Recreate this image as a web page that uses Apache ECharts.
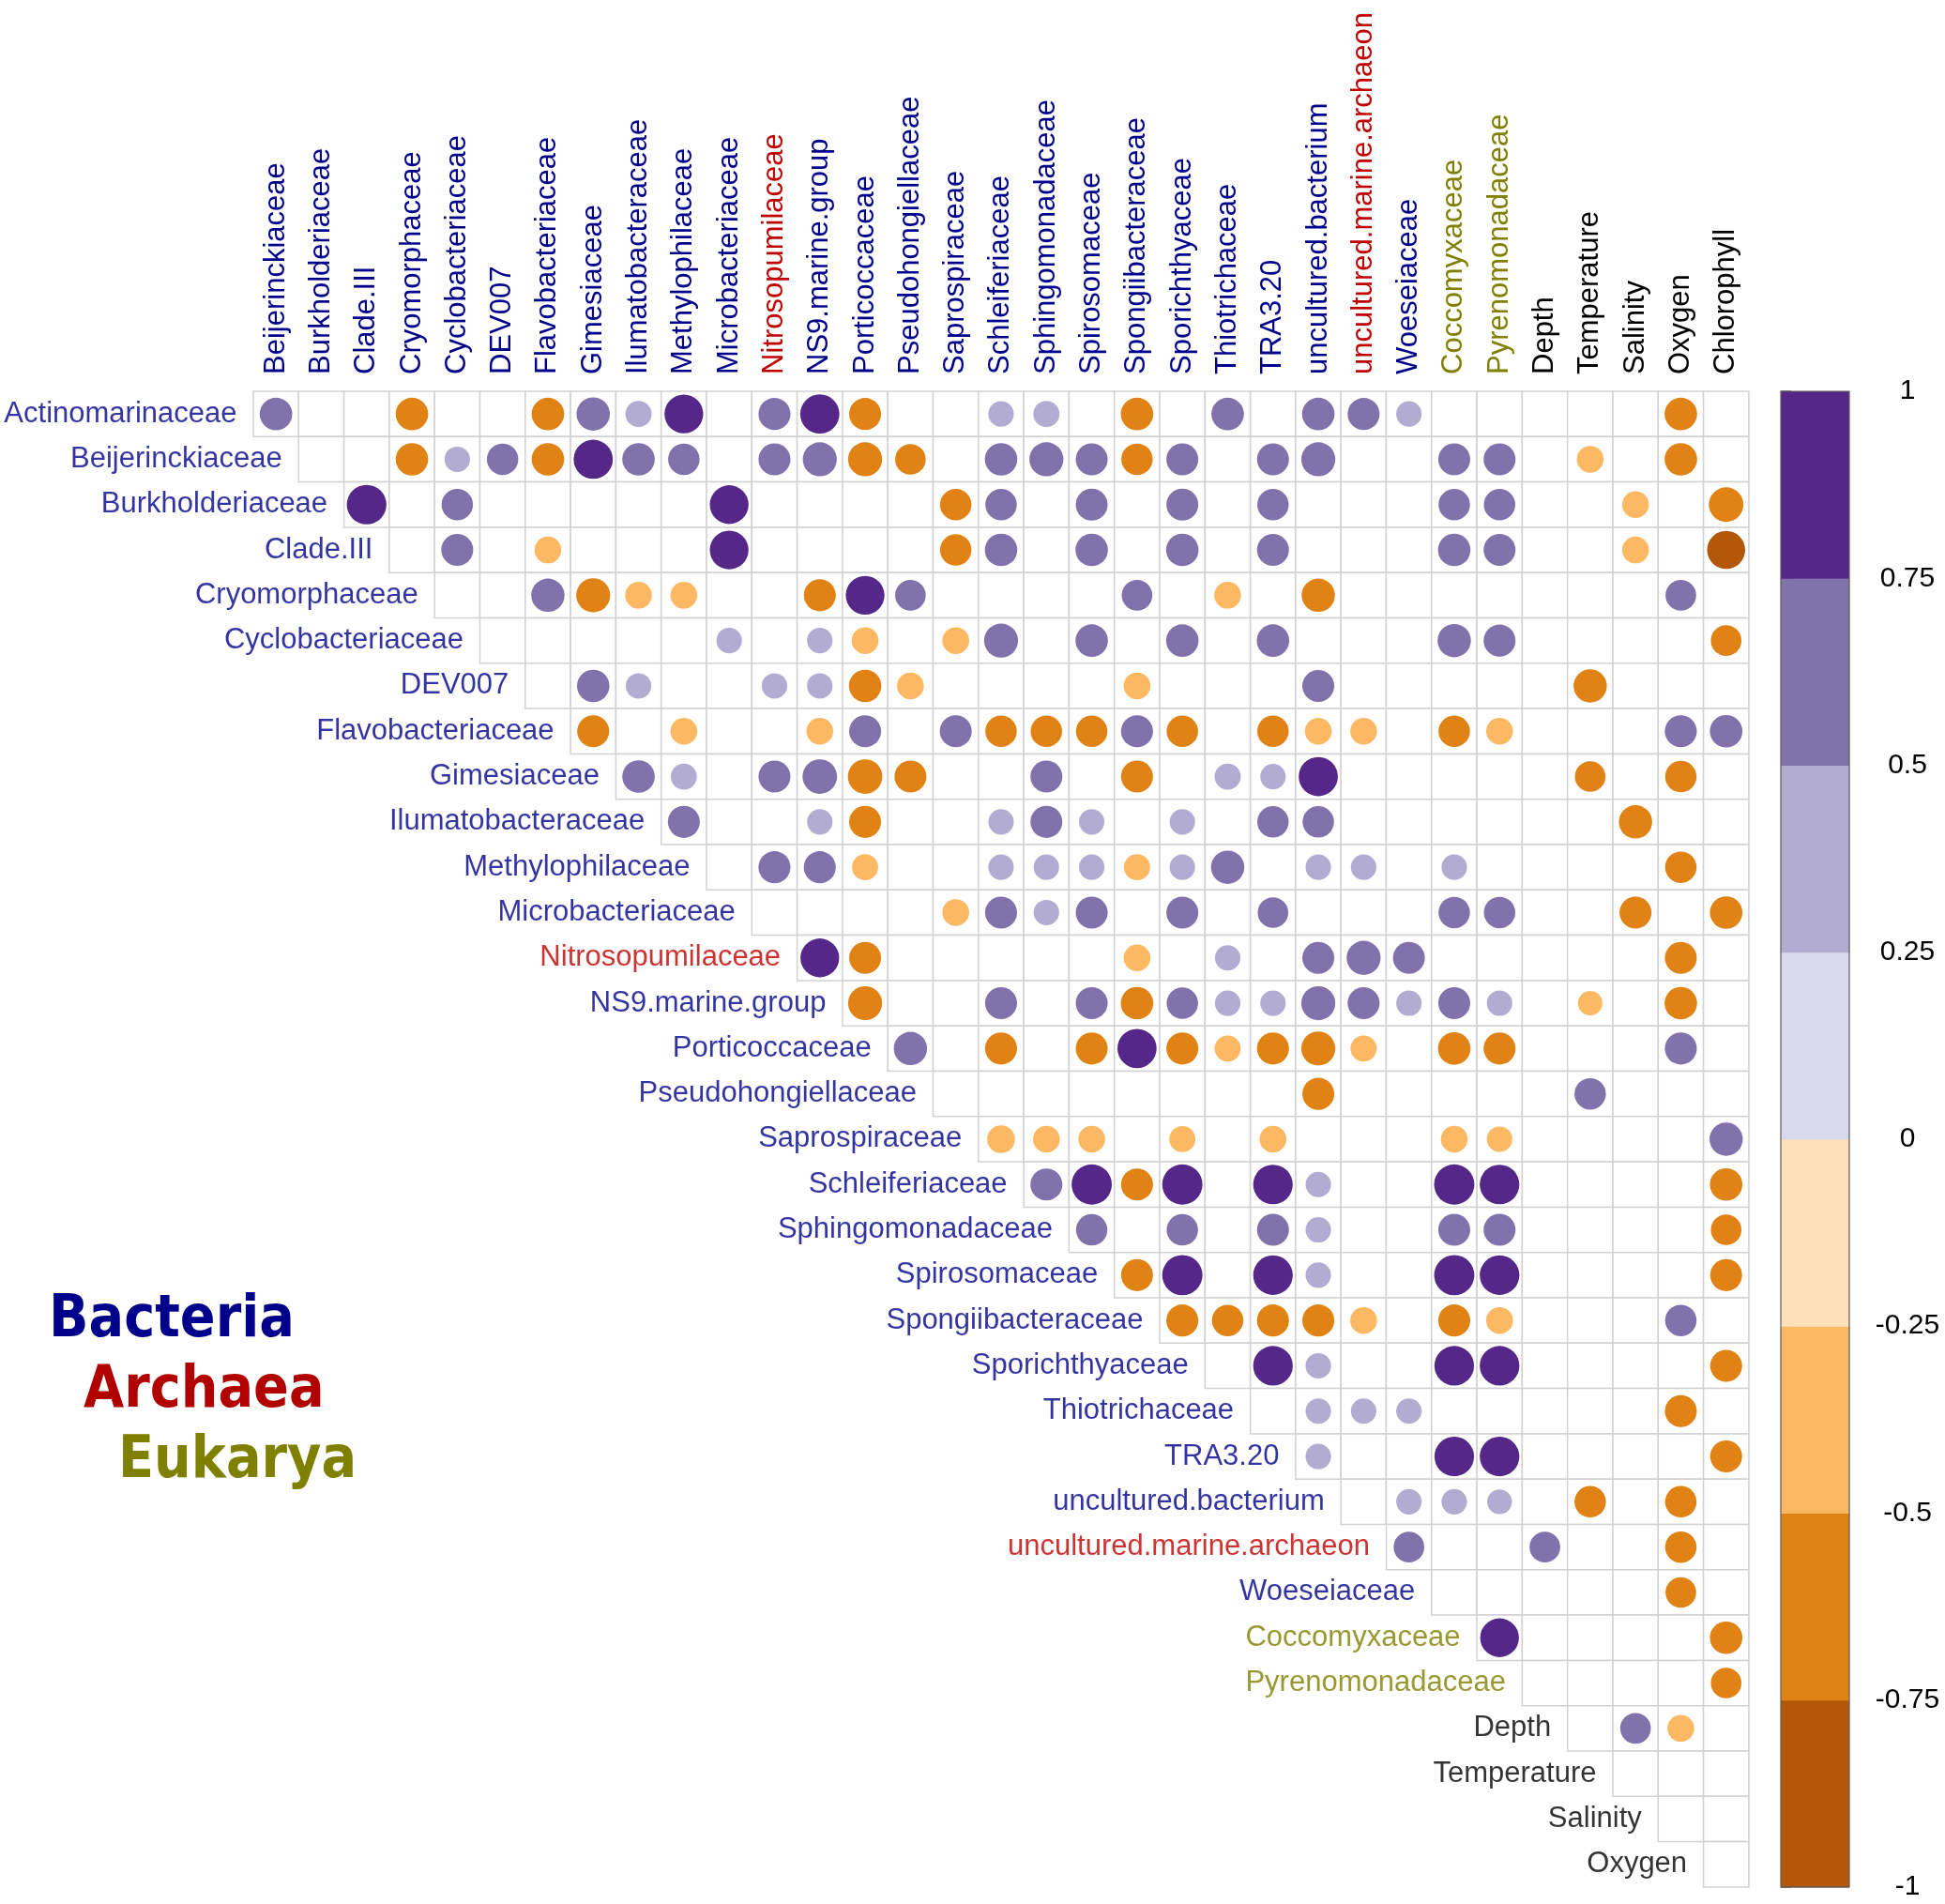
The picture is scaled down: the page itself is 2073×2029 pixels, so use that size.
<!DOCTYPE html>
<html>
<head>
<meta charset="utf-8">
<script src="https://cdn.jsdelivr.net/npm/echarts@6/dist/echarts.min.js"></script>
</head>
<body style="margin:0;background:#fff">
<div id="main" style="width:2073px;height:2029px"></div>
<script>
// row variables (top to bottom) and column variables (left to right)
var rowNames = ['Actinomarinaceae', 'Beijerinckiaceae', 'Burkholderiaceae', 'Clade.III', 'Cryomorphaceae',
    'Cyclobacteriaceae', 'DEV007', 'Flavobacteriaceae', 'Gimesiaceae', 'Ilumatobacteraceae', 'Methylophilaceae',
    'Microbacteriaceae', 'Nitrosopumilaceae', 'NS9.marine.group', 'Porticoccaceae', 'Pseudohongiellaceae',
    'Saprospiraceae', 'Schleiferiaceae', 'Sphingomonadaceae', 'Spirosomaceae', 'Spongiibacteraceae',
    'Sporichthyaceae', 'Thiotrichaceae', 'TRA3.20', 'uncultured.bacterium', 'uncultured.marine.archaeon',
    'Woeseiaceae', 'Coccomyxaceae', 'Pyrenomonadaceae', 'Depth', 'Temperature', 'Salinity', 'Oxygen'];
var colNames = ['Beijerinckiaceae', 'Burkholderiaceae', 'Clade.III', 'Cryomorphaceae', 'Cyclobacteriaceae',
    'DEV007', 'Flavobacteriaceae', 'Gimesiaceae', 'Ilumatobacteraceae', 'Methylophilaceae', 'Microbacteriaceae',
    'Nitrosopumilaceae', 'NS9.marine.group', 'Porticoccaceae', 'Pseudohongiellaceae', 'Saprospiraceae',
    'Schleiferiaceae', 'Sphingomonadaceae', 'Spirosomaceae', 'Spongiibacteraceae', 'Sporichthyaceae',
    'Thiotrichaceae', 'TRA3.20', 'uncultured.bacterium', 'uncultured.marine.archaeon', 'Woeseiaceae',
    'Coccomyxaceae', 'Pyrenomonadaceae', 'Depth', 'Temperature', 'Salinity', 'Oxygen', 'Chlorophyll'];

var archaea = ['Nitrosopumilaceae', 'uncultured.marine.archaeon'];
var eukarya = ['Coccomyxaceae', 'Pyrenomonadaceae'];
var environment = ['Depth', 'Temperature', 'Salinity', 'Oxygen', 'Chlorophyll'];

// significant correlations per row: [column index, r]
var corrByRow = [
    [[0,0.62],[3,-0.62],[6,-0.62],[7,0.65],[8,0.4],[9,0.88],[11,0.6],[12,0.9],[13,-0.6],[16,0.38],[17,0.4],[19,-0.62],[21,0.62],[23,0.62],[24,0.6],[25,0.38],[31,-0.62]],
    [[3,-0.62],[4,0.38],[5,0.58],[6,-0.62],[7,0.9],[8,0.62],[9,0.58],[11,0.6],[12,0.68],[13,-0.68],[14,-0.55],[16,0.62],[17,0.68],[18,0.6],[19,-0.58],[20,0.6],[22,0.6],[23,0.68],[26,0.6],[27,0.6],[29,-0.42],[31,-0.62]],
    [[2,0.92],[4,0.58],[10,0.88],[15,-0.58],[16,0.58],[18,0.6],[20,0.6],[22,0.58],[26,0.58],[27,0.58],[30,-0.42],[32,-0.7]],
    [[4,0.6],[6,-0.42],[10,0.88],[15,-0.58],[16,0.62],[18,0.62],[20,0.62],[22,0.6],[26,0.62],[27,0.6],[30,-0.42],[32,-0.85]],
    [[6,0.65],[7,-0.68],[8,-0.42],[9,-0.42],[12,-0.6],[13,0.88],[14,0.55],[19,0.55],[21,-0.42],[23,-0.65],[31,0.55]],
    [[10,0.38],[12,0.38],[13,-0.42],[15,-0.42],[16,0.68],[18,0.62],[20,0.62],[22,0.62],[26,0.65],[27,0.6],[32,-0.55]],
    [[7,0.62],[8,0.38],[11,0.38],[12,0.38],[13,-0.62],[14,-0.42],[19,-0.42],[23,0.6],[29,-0.65]],
    [[7,-0.6],[9,-0.42],[12,-0.42],[13,0.6],[15,0.6],[16,-0.58],[17,-0.58],[18,-0.58],[19,0.6],[20,-0.58],[22,-0.58],[23,-0.42],[24,-0.42],[26,-0.58],[27,-0.42],[31,0.6],[32,0.62]],
    [[8,0.62],[9,0.4],[11,0.6],[12,0.7],[13,-0.7],[14,-0.6],[17,0.6],[19,-0.6],[21,0.4],[22,0.38],[23,0.9],[29,-0.55],[31,-0.58]],
    [[9,0.6],[12,0.38],[13,-0.6],[16,0.38],[17,0.6],[18,0.38],[20,0.38],[22,0.58],[23,0.58],[30,-0.65]],
    [[11,0.6],[12,0.6],[13,-0.4],[16,0.38],[17,0.38],[18,0.38],[19,-0.4],[20,0.38],[21,0.65],[23,0.38],[24,0.38],[26,0.38],[31,-0.58]],
    [[15,-0.42],[16,0.6],[17,0.38],[18,0.6],[20,0.6],[22,0.55],[26,0.58],[27,0.58],[30,-0.6],[32,-0.62]],
    [[12,0.88],[13,-0.6],[19,-0.42],[21,0.38],[23,0.6],[24,0.68],[25,0.6],[31,-0.6]],
    [[13,-0.68],[16,0.6],[18,0.6],[19,-0.62],[20,0.58],[21,0.38],[22,0.38],[23,0.68],[24,0.6],[25,0.38],[26,0.6],[27,0.38],[29,-0.35],[31,-0.62]],
    [[14,0.65],[16,-0.6],[18,-0.6],[19,0.9],[20,-0.6],[21,-0.4],[22,-0.6],[23,-0.68],[24,-0.4],[26,-0.62],[27,-0.6],[31,0.6]],
    [[23,-0.6],[29,0.58]],
    [[16,-0.45],[17,-0.42],[18,-0.42],[20,-0.4],[22,-0.42],[26,-0.42],[27,-0.38],[32,0.65]],
    [[17,0.6],[18,0.95],[19,-0.6],[20,0.95],[22,0.92],[23,0.38],[26,0.95],[27,0.92],[32,-0.62]],
    [[18,0.58],[20,0.58],[22,0.6],[23,0.38],[26,0.6],[27,0.6],[32,-0.55]],
    [[19,-0.6],[20,0.95],[22,0.92],[23,0.38],[26,0.95],[27,0.92],[32,-0.6]],
    [[20,-0.6],[21,-0.58],[22,-0.6],[23,-0.6],[24,-0.42],[26,-0.6],[27,-0.42],[31,0.58]],
    [[22,0.92],[23,0.38],[26,0.92],[27,0.92],[32,-0.6]],
    [[23,0.38],[24,0.38],[25,0.38],[31,-0.6]],
    [[23,0.38],[26,0.92],[27,0.92],[32,-0.6]],
    [[25,0.38],[26,0.38],[27,0.36],[29,-0.58],[31,-0.58]],
    [[25,0.55],[28,0.55],[31,-0.58]],
    [[31,-0.55]],
    [[27,0.88],[32,-0.62]],
    [[32,-0.55]],
    [[30,0.55],[31,-0.42]],
    [],
    [],
    []
];

// colour legend
var colorBreaks = [-1, -0.75, -0.5, -0.25, 0, 0.25, 0.5, 0.75, 1];
var palette = ['#B35806', '#E08214', '#FDB863', '#FEE0B6', '#D8DAEB', '#B2ABD2', '#8073AC', '#542788'];
var groupNames = ['Bacteria', 'Archaea', 'Eukarya'];
var groupColors = ['#00008B', '#B00000', '#808000'];

var CELL = 48.3;
var N = colNames.length;
var LABEL_FONT = '"Liberation Sans", Arial, sans-serif';

function nameColor(name) {
    if (archaea.indexOf(name) >= 0) return '#C00000';
    if (eukarya.indexOf(name) >= 0) return '#808000';
    if (environment.indexOf(name) >= 0) return '#000000';
    return '#00008B';
}

function binColor(v) {
    for (var i = 0; i < palette.length; i++) {
        if (v <= colorBreaks[i + 1]) return palette[i];
    }
    return palette[palette.length - 1];
}

var cellData = [];
var dotData = [];
var rowLabelData = [];
rowNames.forEach(function (name, r) {
    for (var c = r; c < N; c++) cellData.push([c, r]);
    corrByRow[r].forEach(function (p) { dotData.push([p[0], r, p[1]]); });
    rowLabelData.push({ value: [r - 0.5, r], name: name, label: { color: nameColor(name) } });
});

var barData = palette.map(function (col, i) { return [colorBreaks[i], colorBreaks[i + 1], i]; });

var myChart = echarts.init(document.getElementById('main'), null, { renderer: 'canvas' });

var option = {
    animation: false,
    backgroundColor: '#ffffff',
    grid: [
        { left: 270, top: 417, width: CELL * N, height: CELL * N },
        { left: 1898, top: 417, width: 73, height: CELL * N }
    ],
    xAxis: [
        { type: 'value', gridIndex: 0, min: -0.5, max: N - 0.5, show: false },
        {
            type: 'category', gridIndex: 0, position: 'top', data: colNames,
            axisLine: { show: false }, axisTick: { show: false }, splitLine: { show: false },
            axisLabel: {
                interval: 0, rotate: -90, margin: 18, fontSize: 31, fontFamily: LABEL_FONT,
                color: function (val) { return nameColor(val); }
            }
        },
        { type: 'value', gridIndex: 1, min: 0, max: 1, show: false }
    ],
    yAxis: [
        { type: 'value', gridIndex: 0, min: -0.5, max: N - 0.5, inverse: true, show: false },
        {
            type: 'value', gridIndex: 1, min: -1, max: 1, interval: 0.25, position: 'right',
            axisLine: { show: false }, splitLine: { show: false },
            axisTick: { show: true, length: 11, lineStyle: { color: '#666', width: 1.5 } },
            axisLabel: { margin: 62, align: 'center', fontSize: 30, fontFamily: LABEL_FONT, color: '#000' }
        }
    ],
    series: [
        {
            name: 'cells', type: 'custom', xAxisIndex: 0, yAxisIndex: 0, z: 1, silent: true,
            data: cellData,
            renderItem: function (params, api) {
                var p = api.coord([api.value(0), api.value(1)]);
                var s = api.size([1, 1]);
                var w = Math.abs(s[0]), h = Math.abs(s[1]);
                return {
                    type: 'rect',
                    shape: { x: p[0] - w / 2, y: p[1] - h / 2, width: w, height: h },
                    style: { fill: '#ffffff', stroke: '#d2d2d2', lineWidth: 1.5 }
                };
            }
        },
        {
            name: 'corr', type: 'scatter', xAxisIndex: 0, yAxisIndex: 0, z: 3, silent: true,
            data: dotData,
            symbol: 'circle',
            symbolSize: function (d) { return 44 * Math.sqrt(Math.abs(d[2])); },
            itemStyle: { color: function (p) { return binColor(p.data[2]); }, opacity: 1 }
        },
        {
            name: 'rowLabels', type: 'scatter', xAxisIndex: 0, yAxisIndex: 0, z: 4, silent: true,
            data: rowLabelData,
            symbolSize: 1,
            itemStyle: { color: 'rgba(0,0,0,0)' },
            label: {
                show: true, position: 'left', distance: 17, formatter: '{b}',
                fontSize: 31, fontFamily: LABEL_FONT
            }
        },
        {
            name: 'colorbar', type: 'custom', xAxisIndex: 2, yAxisIndex: 1, silent: true,
            data: barData,
            renderItem: function (params, api) {
                var a = api.coord([0, api.value(0)]);
                var b = api.coord([1, api.value(1)]);
                return {
                    type: 'rect',
                    shape: { x: a[0], y: Math.min(a[1], b[1]), width: b[0] - a[0], height: Math.abs(a[1] - b[1]) + 0.5 },
                    style: { fill: palette[api.value(2)] }
                };
            }
        }
    ],
    graphic: [
        {
            type: 'rect', z: 10, silent: true,
            shape: { x: 1898, y: 417, width: 73, height: CELL * N },
            style: { fill: null, stroke: '#5a5a5a', lineWidth: 1.2 }
        }
    ].concat(groupNames.map(function (g, i) {
        return {
            type: 'text', z: 10, silent: true,
            x: 52 + i * 37, y: 1408 + i * 75,
            style: {
                text: g, fill: groupColors[i], fontSize: 62, fontWeight: 'bold',
                fontFamily: '"DejaVu Sans Condensed", "DejaVu Sans", sans-serif',
                align: 'left', verticalAlign: 'middle'
            }
        };
    }))
};

myChart.setOption(option);
</script>
</body>
</html>
